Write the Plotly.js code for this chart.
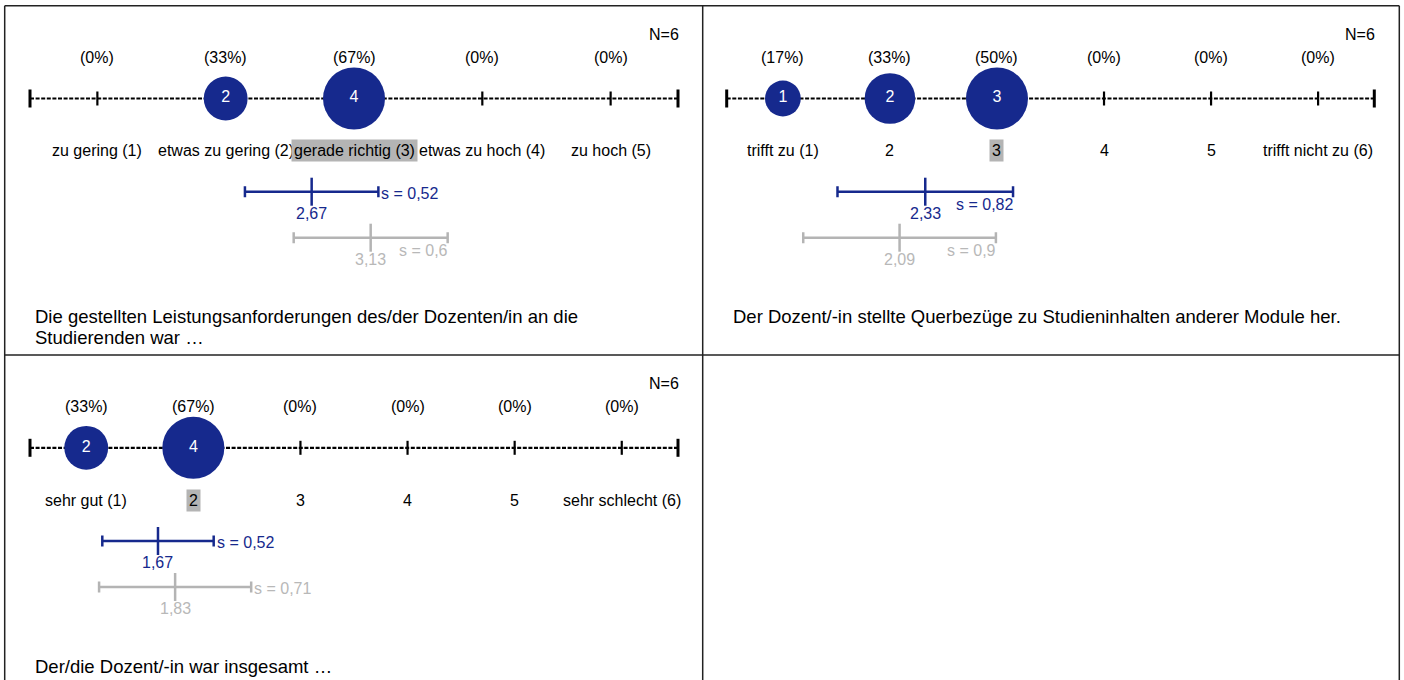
<!DOCTYPE html>
<html><head><meta charset="utf-8">
<script src="https://cdn.plot.ly/plotly-3.0.1.min.js"></script>
<style>html,body{margin:0;padding:0;background:#fff}#chart{width:1404px;height:680px}</style>
</head><body><div id="chart"></div>
<script>
// ---------- data ----------
const p1Categories = ["zu gering (1)", "etwas zu gering (2)", "gerade richtig (3)", "etwas zu hoch (4)", "zu hoch (5)"];
const p1Counts = [0, 2, 4, 0, 0];
const p1Percent = [0, 33, 67, 0, 0];
const p1N = 6;
const p1Mean = 2.67, p1Sd = 0.52;
const p1CompMean = 3.13, p1CompSd = 0.6;
const p1Question = ["Die gestellten Leistungsanforderungen des/der Dozenten/in an die", "Studierenden war …"];

const p2Categories = ["trifft zu (1)", "2", "3", "4", "5", "trifft nicht zu (6)"];
const p2Counts = [1, 2, 3, 0, 0, 0];
const p2Percent = [17, 33, 50, 0, 0, 0];
const p2N = 6;
const p2Mean = 2.33, p2Sd = 0.82;
const p2CompMean = 2.09, p2CompSd = 0.9;
const p2Question = ["Der Dozent/-in stellte Querbezüge zu Studieninhalten anderer Module her."];

const p3Categories = ["sehr gut (1)", "2", "3", "4", "5", "sehr schlecht (6)"];
const p3Counts = [2, 4, 0, 0, 0, 0];
const p3Percent = [33, 67, 0, 0, 0, 0];
const p3N = 6;
const p3Mean = 1.67, p3Sd = 0.52;
const p3CompMean = 1.83, p3CompSd = 0.71;
const p3Question = ["Der/die Dozent/-in war insgesamt …"];

// ---------- styling / layout ----------
const W = 1404, H = 680;
const BLUE = '#16298d', GRAY = '#b4b4b4', GRAYTXT = '#b8b8b8';
const FONT = '"Liberation Sans", Arial, Helvetica, sans-serif';
const fmt = v => String(v).replace('.', ',');
const px = v => v / W;
const py = v => 1 - v / H;

const LV = {n: 28.5, pct: 51.5, axis: 92.8, cat: 145, bar: 186, barLbl: 207.5, cbar: 232, cbarLbl: 253.5, q: 311, qStep: 21};
const MAXD = 62;

const panels = [
  {cats: p1Categories, counts: p1Counts, pct: p1Percent, n: p1N, mean: p1Mean, sd: p1Sd, cmean: p1CompMean, csd: p1CompSd, q: p1Question,
   xa: 'x', ya: 'y', xDom: [30, 678], top: 5.7, bottom: 355, textLeft: 32.5, sMain: 'right', sComp: 'below'},
  {cats: p2Categories, counts: p2Counts, pct: p2Percent, n: p2N, mean: p2Mean, sd: p2Sd, cmean: p2CompMean, csd: p2CompSd, q: p2Question,
   xa: 'x2', ya: 'y2', xDom: [726.7, 1374.3], top: 5.7, bottom: 355, textLeft: 730.5, sMain: 'below', sComp: 'below'},
  {cats: p3Categories, counts: p3Counts, pct: p3Percent, n: p3N, mean: p3Mean, sd: p3Sd, cmean: p3CompMean, csd: p3CompSd, q: p3Question,
   xa: 'x3', ya: 'y3', xDom: [30, 678], top: 355, bottom: H, textLeft: 32.5, sMain: 'right', sComp: 'right'}
];

const traces = [], annotations = [], shapes = [];
const layout = {
  width: W, height: H, margin: {l: 0, r: 0, t: 0, b: 0}, paper_bgcolor: '#fff', plot_bgcolor: 'rgba(0,0,0,0)',
  showlegend: false, font: {family: FONT, size: 16, color: '#000'}, hovermode: false
};

const txt = (o) => Object.assign({showarrow: false, font: {family: FONT, size: 16, color: '#000'}}, o);

panels.forEach((p, k) => {
  const xName = k === 0 ? 'xaxis' : 'xaxis' + (k + 1);
  const yName = k === 0 ? 'yaxis' : 'yaxis' + (k + 1);
  const h = p.bottom - p.top;
  const nc = p.cats.length;
  const hidden = {showgrid: false, zeroline: false, showline: false, showticklabels: false, ticks: '', fixedrange: true};
  layout[xName] = Object.assign({domain: [px(p.xDom[0]), px(p.xDom[1])], range: [1 - 0.525, nc + 0.525], anchor: p.ya}, hidden);
  layout[yName] = Object.assign({domain: [py(p.bottom), py(p.top)], range: [h, 0], anchor: p.xa}, hidden);

  const idx = p.cats.map((_, i) => i + 1);
  const maxC = Math.max(...p.counts);
  const modeIdx = p.counts.indexOf(maxC);

  // dashed scale line + end caps (behind the bubbles)
  shapes.push({type: 'line', layer: 'below', xref: p.xa + ' domain', yref: p.ya, x0: 0, x1: 1, y0: LV.axis, y1: LV.axis,
    line: {color: '#000', width: 2.2, dash: '4px,1.6px'}});
  [0, 1].forEach(e => shapes.push({type: 'line', layer: 'below', xref: p.xa + ' domain', yref: p.ya, x0: e, x1: e, y0: LV.axis - 9, y1: LV.axis + 9,
    line: {color: '#000', width: 3}}));

  // category ticks
  traces.push({type: 'scatter', mode: 'markers', xaxis: p.xa, yaxis: p.ya, x: idx, y: idx.map(() => LV.axis), cliponaxis: false,
    marker: {symbol: 'line-ns', size: 10, color: '#000', line: {color: '#000', width: 2.2}}, hoverinfo: 'skip'});

  // bubbles
  const bx = [], bc = [];
  p.counts.forEach((c, i) => { if (c > 0) { bx.push(i + 1); bc.push(c); } });
  traces.push({type: 'scatter', mode: 'markers+text', xaxis: p.xa, yaxis: p.ya, x: bx, y: bx.map(() => LV.axis), cliponaxis: false,
    text: bc.map(String), textposition: 'middle center', textfont: {family: FONT, size: 16, color: '#ffffff'},
    marker: {size: bc.map(c => MAXD * Math.sqrt(c / maxC)), color: BLUE, line: {width: 0}, opacity: 1}, hoverinfo: 'skip'});

  // percentages and category labels
  p.pct.forEach((v, i) => annotations.push(txt({xref: p.xa, yref: p.ya, x: i + 1, y: LV.pct, text: '(' + v + '%)', yanchor: 'middle'})));
  p.cats.forEach((c, i) => annotations.push(txt({xref: p.xa, yref: p.ya, x: i + 1, y: LV.cat, text: c, yanchor: 'middle',
    bgcolor: i === modeIdx ? GRAY : 'rgba(0,0,0,0)', borderpad: 2})));

  // N
  annotations.push(txt({xref: 'paper', yref: p.ya, x: px(p.xDom[1] + 2.5), y: LV.n, text: 'N=' + p.n, xanchor: 'right', yanchor: 'middle'}));

  // mean / sd bars
  const bars = [
    {m: p.cmean, s: p.csd, col: GRAY, tcol: GRAYTXT, y: LV.cbar, ly: LV.cbarLbl, side: p.sComp},
    {m: p.mean, s: p.sd, col: BLUE, tcol: BLUE, y: LV.bar, ly: LV.barLbl, side: p.sMain}
  ];
  bars.forEach(b => {
    traces.push({type: 'scatter', mode: 'markers', xaxis: p.xa, yaxis: p.ya, x: [b.m], y: [b.y], cliponaxis: false,
      marker: {symbol: 'line-ns', size: 20, color: b.col, line: {color: b.col, width: 2.5}},
      error_x: {type: 'data', array: [b.s], symmetric: true, thickness: 2.5, width: 5.5, color: b.col}, hoverinfo: 'skip'});
    annotations.push(txt({xref: p.xa, yref: p.ya, x: b.m, y: b.ly, text: fmt(b.m), yanchor: 'middle', font: {family: FONT, size: 16, color: b.tcol}}));
    if (b.side === 'right') {
      annotations.push(txt({xref: p.xa, yref: p.ya, x: b.m + b.s, y: b.y + 1.5, text: 's = ' + fmt(b.s), xanchor: 'left', yanchor: 'middle', xshift: 1,
        font: {family: FONT, size: 16, color: b.tcol}}));
    } else {
      annotations.push(txt({xref: p.xa, yref: p.ya, x: b.m + b.s, y: b.y + 12.5, text: 's = ' + fmt(b.s), xanchor: 'right', yanchor: 'middle', xshift: 2,
        font: {family: FONT, size: 16, color: b.tcol}}));
    }
  });

  // question text
  p.q.forEach((line, i) => annotations.push(txt({xref: 'paper', yref: p.ya, x: px(p.textLeft), y: LV.q + i * LV.qStep, text: line,
    xanchor: 'left', yanchor: 'middle', font: {family: FONT, size: 18.5, color: '#000'}})));
});

// panel borders
const bL = 4.7, bR = 1399.3, bT = 5.7, bB = 700, bMx = 702.7, bMy = 355;
const border = (x0, y0, x1, y1) => shapes.push({type: 'line', xref: 'paper', yref: 'paper', x0: px(x0), x1: px(x1), y0: py(y0), y1: py(y1),
  line: {color: '#222', width: 1.5}});
border(bL, bT, bR, bT);
border(bL, bT, bL, bB);
border(bR, bT, bR, bB);
border(bMx, bT, bMx, bB);
border(bL, bMy, bR, bMy);

layout.annotations = annotations;
layout.shapes = shapes;
Plotly.newPlot('chart', traces, layout, {displayModeBar: false, staticPlot: true});
</script>
</body></html>
